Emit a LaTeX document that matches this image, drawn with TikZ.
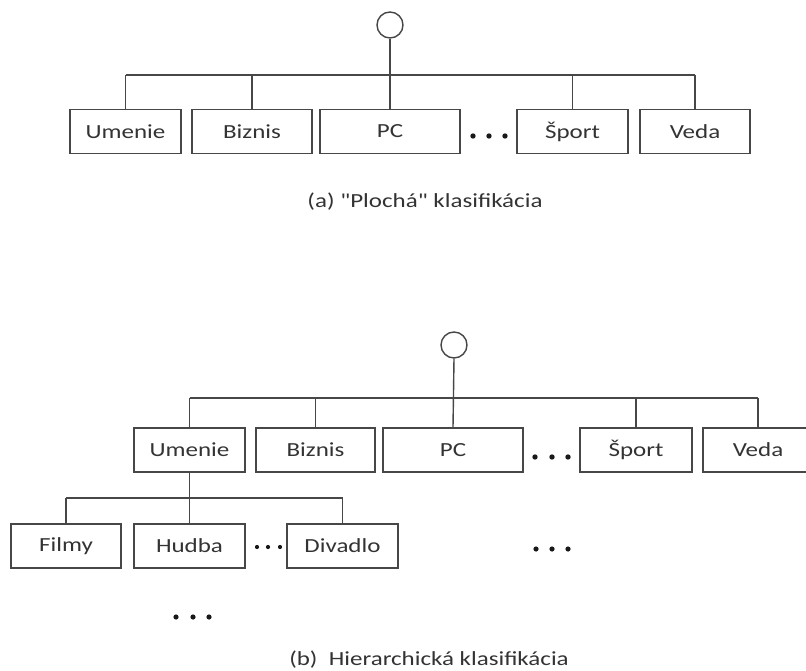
\documentclass[tikz,border=0pt]{standalone}
\usepackage{fontspec}
% a family without the TeX ligature mapping keeps the straight double quotes
\newfontfamily\labelfont{Carlito}[FakeStretch=1.25]
\begin{document}
\begin{tikzpicture}[x=1pt,y=-1pt,
  ln/.style={draw=black!72, line width=1.4pt},
  box/.style={ln, fill=white, minimum height=44pt, inner sep=0pt,
    font=\labelfont\fontsize{20}{24}\selectfont, text=black!80},
  root/.style={ln, circle, minimum size=26pt, inner sep=0pt},
  captext/.style={font=\labelfont\fontsize{20}{24}\selectfont, text=black!80, inner sep=0pt},
  dot/.style={fill=black!90}]
\clip (0,0) rectangle (806,671);
\fill[white] (0,0) rectangle (806,671);

% ---------- (a) flat classification ----------
\node[root] (ra) at (390,25) {};
\node[box, minimum width=111pt] (au) at (125.5,131.5) {Umenie};
\node[box, minimum width=120pt] (ab) at (252,131.5) {Biznis};
\node[box, minimum width=140pt] (ap) at (390,131.5) {PC};
\node[box, minimum width=111pt] (as) at (572.5,131.5) {Šport};
\node[box, minimum width=110pt] (av) at (695,131.5) {Veda};
\coordinate (abar) at (0,75);
\draw[ln] (au.north |- abar) -- (av.north |- abar);
\draw[ln] (ra.south) -- (ap.north);
\foreach \n in {au,ab,as,av} \draw[ln] (\n.north |- abar) -- (\n.north);
\foreach \x in {473,489,505} \fill[dot] (\x,136) circle (2.7pt);
\node[captext] (capa) at (425,202) {(a) "Plochá" klasifikácia};

% ---------- (b) hierarchical classification ----------
\node[root] (rb) at (454,345) {};
\node[box, minimum width=111pt] (bu) at (189.5,450) {Umenie};
\node[box, minimum width=119pt] (bb) at (315.5,450) {Biznis};
\node[box, minimum width=140pt] (bp) at (453,450) {PC};
\node[box, minimum width=112pt] (bs) at (636,450) {Šport};
\node[box, minimum width=110pt] (bv) at (758,450) {Veda};
\coordinate (bbar) at (0,398);
\draw[ln] (bu.north |- bbar) -- (bv.north |- bbar);
\draw[ln] (rb.south) -- (bp.north);
\foreach \n in {bu,bb,bs,bv} \draw[ln] (\n.north |- bbar) -- (\n.north);
\foreach \x in {535,552,568} \fill[dot] (\x,457) circle (2.7pt);

% second level under Umenie
\node[box, minimum width=110pt] (cf) at (66,546) {Filmy};
\node[box, minimum width=111pt] (ch) at (189.5,546) {Hudba};
\node[box, minimum width=111pt] (cd) at (342.5,546) {Divadlo};
\coordinate (cbar) at (0,498);
\draw[ln] (cf.north |- cbar) -- (cd.north |- cbar);
\draw[ln] (bu.south) -- (ch.north);
\foreach \n in {cf,cd} \draw[ln] (\n.north |- cbar) -- (\n.north);
\foreach \x in {257,268,280} \fill[dot] (\x,547) circle (2.1pt);
\foreach \x in {536,552,568} \fill[dot] (\x,549) circle (2.6pt);
\foreach \x in {176,193,209} \fill[dot] (\x,617) circle (2.6pt);
\node[captext] (capb) at (429,660) {(b)\ \ Hierarchická klasifikácia};
\end{tikzpicture}
\end{document}
